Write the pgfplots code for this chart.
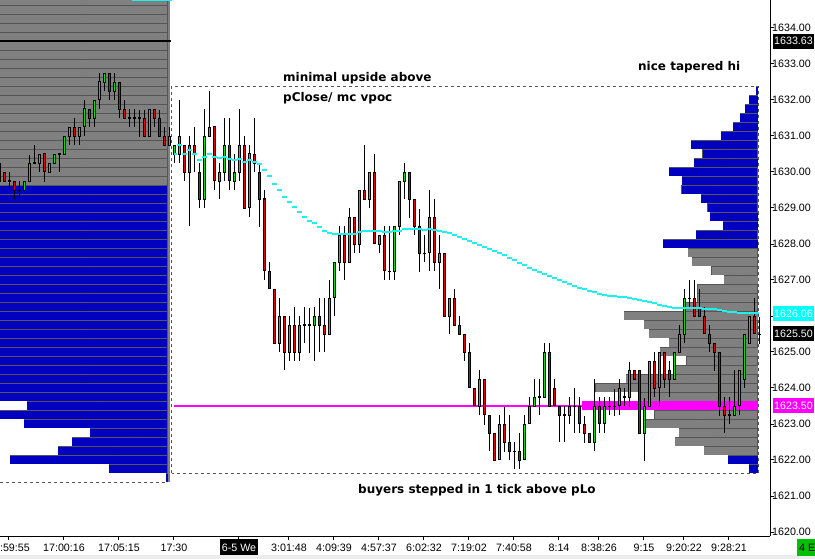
\documentclass[border=0pt]{standalone}
\usepackage{pgfplots}
\pgfplotsset{compat=1.18}
\usepackage{pgfplotstable}
\usepackage{fontspec}
\setmainfont{Liberation Sans}
\newfontfamily\notefont{DejaVu Sans}

\definecolor{cgreen}{RGB}{0,230,0}
\definecolor{cred}{RGB}{230,0,0}
\definecolor{pblue}{RGB}{0,0,192}
\definecolor{pgray}{RGB}{128,128,128}
\definecolor{pedge}{RGB}{85,85,85}
\definecolor{vwap}{RGB}{30,240,240}
\definecolor{poc}{RGB}{255,0,255}
\definecolor{boxcyan}{RGB}{0,255,255}
\definecolor{tagreen}{RGB}{0,192,0}

% candles: bar x (px), open, high, low, close
\pgfplotstableread{
x O H L C
-0.7 1629.75 1630.25 1629.75 1630.25
4.3 1630.00 1630.00 1629.75 1629.75
9.3 1629.75 1630.00 1629.50 1629.75
14.3 1629.75 1629.75 1629.25 1629.50
19.3 1629.50 1629.75 1629.25 1629.50
24.3 1629.50 1629.75 1629.50 1629.75
29.3 1629.75 1630.50 1629.75 1630.25
34.3 1630.25 1630.75 1630.25 1630.25
39.3 1630.25 1630.50 1630.00 1630.50
44.3 1630.50 1630.50 1629.75 1630.00
49.3 1630.00 1630.25 1630.00 1630.25
54.3 1630.25 1630.50 1630.25 1630.50
59.3 1630.50 1630.50 1630.00 1630.50
64.3 1630.50 1631.00 1630.50 1631.00
69.3 1631.00 1631.25 1630.75 1631.25
74.3 1631.25 1631.50 1630.75 1631.00
79.3 1631.00 1631.25 1630.75 1631.25
84.3 1631.25 1632.00 1631.00 1631.75
89.3 1631.75 1631.75 1631.25 1631.50
94.3 1631.50 1632.00 1631.25 1632.00
99.3 1632.00 1632.75 1631.75 1632.50
104.3 1632.50 1632.75 1632.25 1632.75
109.3 1632.75 1632.75 1632.00 1632.25
114.3 1632.25 1632.75 1632.00 1632.50
119.3 1632.50 1632.50 1631.50 1631.75
124.3 1631.75 1632.00 1631.50 1631.50
129.3 1631.50 1631.75 1631.25 1631.50
134.3 1631.50 1631.75 1631.25 1631.50
139.3 1631.50 1631.75 1631.00 1631.50
144.3 1631.50 1631.75 1631.00 1631.00
149.3 1631.00 1631.75 1631.00 1631.75
154.3 1631.75 1631.75 1631.25 1631.50
159.3 1631.50 1631.75 1631.00 1631.00
164.3 1631.00 1631.25 1630.75 1630.75
169.3 1630.75 1631.25 1630.75 1631.00
174.3 1630.50 1630.75 1630.25 1630.75
179.3 1630.50 1632.00 1630.25 1631.00
184.3 1630.75 1630.75 1629.75 1630.00
189.3 1630.00 1631.00 1628.50 1630.75
194.3 1630.75 1631.25 1630.00 1630.50
199.3 1630.00 1630.25 1629.00 1629.25
204.3 1629.25 1631.75 1629.00 1631.00
209.3 1631.00 1632.25 1631.00 1631.25
214.3 1631.25 1631.25 1629.50 1629.75
219.3 1629.75 1630.25 1629.25 1630.00
224.3 1630.00 1631.50 1629.75 1630.75
229.3 1630.75 1631.50 1629.50 1629.75
234.3 1629.75 1630.50 1629.50 1630.00
239.3 1630.00 1631.75 1629.75 1630.75
244.3 1630.75 1631.00 1629.00 1629.00
249.3 1629.00 1630.75 1628.75 1630.50
254.3 1630.50 1631.50 1630.00 1630.25
259.3 1630.00 1630.25 1628.50 1629.25
264.3 1629.25 1629.50 1627.00 1627.25
269.3 1627.25 1627.50 1626.75 1626.75
274.3 1626.75 1626.75 1625.25 1625.25
279.3 1625.25 1626.50 1625.00 1626.00
284.3 1626.00 1626.00 1624.50 1625.00
289.3 1625.00 1626.00 1624.75 1625.75
294.3 1625.75 1626.25 1624.75 1625.00
299.3 1625.00 1626.00 1624.75 1625.75
304.3 1625.75 1626.25 1625.25 1625.75
309.3 1625.75 1626.25 1625.00 1625.75
314.3 1625.75 1626.25 1624.75 1626.00
319.3 1626.00 1626.50 1625.00 1625.75
324.3 1625.75 1626.50 1625.00 1625.50
329.3 1625.50 1627.00 1625.50 1626.50
334.3 1626.50 1627.50 1626.00 1627.50
339.3 1627.50 1628.50 1627.25 1628.25
344.3 1628.25 1628.50 1627.00 1627.50
349.3 1627.50 1629.00 1627.50 1628.75
354.3 1628.75 1628.75 1627.75 1628.00
359.3 1628.00 1629.50 1627.75 1629.50
364.3 1629.50 1630.75 1629.25 1629.25
369.3 1629.25 1630.00 1629.00 1630.00
374.3 1630.00 1630.50 1628.00 1628.00
379.3 1628.00 1628.25 1627.75 1628.25
384.3 1628.25 1628.50 1627.00 1627.25
389.3 1627.25 1628.50 1627.00 1627.25
394.3 1627.25 1628.50 1627.00 1628.50
399.3 1628.50 1629.75 1628.25 1629.75
404.3 1629.75 1630.25 1629.25 1630.00
409.3 1630.00 1630.00 1628.75 1629.25
414.3 1629.25 1629.25 1628.25 1628.50
419.3 1628.50 1629.00 1627.25 1627.75
424.3 1627.75 1628.25 1627.50 1627.75
429.3 1627.75 1629.50 1627.25 1628.75
434.3 1628.75 1629.25 1627.25 1627.50
439.3 1627.50 1628.25 1626.75 1627.75
444.3 1627.75 1627.75 1626.00 1626.00
449.3 1626.00 1626.50 1625.50 1626.50
454.3 1626.50 1626.75 1625.75 1625.75
459.3 1625.75 1626.00 1625.50 1625.50
464.3 1625.50 1625.50 1624.75 1625.00
469.3 1625.00 1625.25 1624.00 1624.00
474.3 1624.00 1624.00 1623.50 1623.50
479.3 1623.50 1624.50 1623.25 1624.25
484.3 1624.25 1624.25 1623.00 1623.25
489.3 1623.25 1623.25 1622.25 1622.75
494.3 1622.75 1622.75 1622.00 1622.00
499.3 1622.00 1623.25 1622.00 1623.00
504.3 1623.00 1623.50 1622.25 1622.50
509.3 1622.50 1623.25 1622.00 1622.25
514.3 1622.25 1622.50 1621.75 1622.25
519.3 1622.25 1622.75 1621.75 1622.00
524.3 1622.00 1623.25 1622.00 1623.00
529.3 1623.00 1623.75 1623.00 1623.50
534.3 1623.50 1624.25 1623.50 1623.75
539.3 1623.75 1624.25 1623.25 1623.75
544.3 1623.75 1625.25 1623.75 1625.00
549.3 1625.00 1625.25 1623.50 1623.50
554.3 1624.00 1624.25 1623.50 1623.50
559.3 1623.50 1623.50 1622.50 1623.25
564.3 1623.25 1623.50 1622.50 1623.25
569.3 1623.25 1623.75 1623.00 1623.50
574.3 1623.50 1624.00 1622.75 1623.50
579.3 1623.50 1623.75 1622.75 1623.00
584.3 1623.00 1623.25 1622.50 1622.75
589.3 1622.75 1622.75 1622.50 1622.50
594.3 1622.50 1624.25 1622.25 1623.50
599.3 1623.50 1623.75 1622.75 1623.00
604.3 1623.00 1623.75 1622.75 1623.50
609.3 1623.50 1623.75 1623.25 1623.50
614.3 1623.50 1624.00 1623.25 1623.50
619.3 1623.50 1624.25 1623.25 1624.00
624.3 1623.75 1624.00 1623.50 1623.75
629.3 1623.75 1624.75 1623.50 1624.50
634.3 1624.50 1624.50 1624.25 1624.25
639.3 1624.50 1624.50 1622.75 1622.75
644.3 1622.75 1623.75 1622.00 1623.50
649.3 1623.50 1624.75 1623.50 1624.75
654.3 1624.75 1625.00 1623.75 1624.00
659.3 1624.00 1625.00 1623.50 1625.00
664.3 1625.00 1625.00 1624.00 1624.25
669.3 1624.50 1624.75 1623.75 1624.25
674.3 1624.25 1625.00 1624.25 1625.00
679.3 1625.00 1625.75 1625.00 1625.50
684.3 1625.50 1626.75 1625.25 1626.50
689.3 1626.50 1627.00 1626.25 1626.50
694.3 1626.50 1627.00 1626.00 1626.00
699.3 1626.25 1626.75 1626.00 1626.00
704.3 1626.00 1626.25 1625.50 1625.50
709.3 1625.50 1625.75 1625.00 1625.25
714.3 1625.25 1625.25 1624.50 1625.00
719.3 1625.00 1625.00 1623.25 1623.50
724.3 1623.50 1623.75 1622.75 1623.25
729.3 1623.25 1623.75 1623.00 1623.25
734.3 1623.25 1624.50 1623.25 1623.50
739.3 1623.50 1624.50 1623.25 1624.50
744.3 1624.25 1625.50 1624.00 1625.50
749.3 1625.25 1626.00 1625.25 1626.00
754.3 1626.00 1626.50 1625.50 1625.50
759.3 1625.50 1626.00 1625.25 1625.50
}\candles

% moving average, one value per bar
\pgfplotstableread{
x v
174.3 1630.500
179.3 1630.750
184.3 1630.500
189.3 1630.611
194.3 1630.500
199.3 1630.333
204.3 1630.417
209.3 1630.500
214.3 1630.417
219.3 1630.389
224.3 1630.417
229.3 1630.361
234.3 1630.333
239.3 1630.361
244.3 1630.278
249.3 1630.333
254.3 1630.278
259.3 1630.222
264.3 1630.056
269.3 1629.889
274.3 1629.667
279.3 1629.500
284.3 1629.306
289.3 1629.167
294.3 1629.028
299.3 1628.889
304.3 1628.750
309.3 1628.639
314.3 1628.583
319.3 1628.472
324.3 1628.361
329.3 1628.306
334.3 1628.278
339.3 1628.278
344.3 1628.278
349.3 1628.278
354.3 1628.278
359.3 1628.333
364.3 1628.361
369.3 1628.361
374.3 1628.361
379.3 1628.361
384.3 1628.320
389.3 1628.320
394.3 1628.361
399.3 1628.361
404.3 1628.410
409.3 1628.410
414.3 1628.410
419.3 1628.410
424.3 1628.389
429.3 1628.410
434.3 1628.389
439.3 1628.361
444.3 1628.320
449.3 1628.306
454.3 1628.250
459.3 1628.194
464.3 1628.139
469.3 1628.083
474.3 1628.028
479.3 1627.972
484.3 1627.917
489.3 1627.861
494.3 1627.806
499.3 1627.750
504.3 1627.694
509.3 1627.611
514.3 1627.556
519.3 1627.472
524.3 1627.417
529.3 1627.333
534.3 1627.278
539.3 1627.222
544.3 1627.167
549.3 1627.111
554.3 1627.056
559.3 1627.000
564.3 1626.944
569.3 1626.889
574.3 1626.833
579.3 1626.778
584.3 1626.750
589.3 1626.694
594.3 1626.667
599.3 1626.611
604.3 1626.583
609.3 1626.556
614.3 1626.542
619.3 1626.528
624.3 1626.514
629.3 1626.500
634.3 1626.472
639.3 1626.444
644.3 1626.417
649.3 1626.389
654.3 1626.361
659.3 1626.306
664.3 1626.278
669.3 1626.250
674.3 1626.236
679.3 1626.222
684.3 1626.222
689.3 1626.222
694.3 1626.222
699.3 1626.222
704.3 1626.208
709.3 1626.194
714.3 1626.181
719.3 1626.167
724.3 1626.139
729.3 1626.111
734.3 1626.111
739.3 1626.097
744.3 1626.083
749.3 1626.083
754.3 1626.083
759.3 1626.070
}\vwaptab

% volume profiles: price level, left end, right end (px)
\pgfplotstableread{
y l r
1634.75 -5 168
1634.50 -5 168
1634.25 -5 168
1634.00 -5 168
1633.75 -5 168
1633.50 -5 168
1633.25 -5 168
1633.00 -5 168
1632.75 -5 168
1632.50 -5 168
1632.25 -5 168
1632.00 -5 168
1631.75 -5 168
1631.50 -5 168
1631.25 -5 168
1631.00 -5 168
1630.75 -5 168
1630.50 -5 168
1630.25 -5 168
1630.00 -5 168
1629.75 -5 168
}\lgray

\pgfplotstableread{
y l r
1629.50 -5 168
1629.25 -5 168
1629.00 -5 168
1628.75 -5 168
1628.50 -5 168
1628.25 -5 168
1628.00 -5 168
1627.75 -5 168
1627.50 -5 168
1627.25 -5 168
1627.00 -5 168
1626.75 -5 168
1626.50 -5 168
1626.25 -5 168
1626.00 -5 168
1625.75 -5 168
1625.50 -5 168
1625.25 -5 168
1625.00 -5 168
1624.75 -5 168
1624.50 -5 168
1624.25 -5 168
1624.00 -5 168
1623.75 -5 168
1623.50 27 168
1623.25 -5 168
1623.00 24 168
1622.75 90 168
1622.50 72 168
1622.25 58 168
1622.00 10 168
1621.75 109 168
1621.50 166 168
}\lblue

\pgfplotstableread{
y l r
1632.25 756 758
1632.00 749 758
1631.75 745 758
1631.50 740 758
1631.25 733 758
1631.00 721 758
1630.75 691 758
1630.50 702 758
1630.25 694 758
1630.00 669 758
1629.75 682 758
1629.50 681 758
1629.25 701 758
1629.00 707 758
1628.75 710 758
1628.50 723 758
1628.25 696 758
1628.00 663 758
1622.00 728 758
1621.75 749 758
}\rblue

\pgfplotstableread{
y l r
1627.75 688 758
1627.50 692 758
1627.25 711 758
1627.00 724 758
1626.75 697 758
1626.50 697 758
1626.25 683 758
1626.00 624 758
1625.75 644 758
1625.50 649 758
1625.25 669 758
1625.00 660 758
1624.75 686 758
1624.50 673 758
1624.25 626 758
1624.00 595 758
1623.75 640 758
1623.25 654 758
1623.00 645 758
1622.75 679 758
1622.50 675 758
1622.25 704 758
}\rgray

\pgfplotstableread{
y l r
1623.50 582 758
}\rpoc

\pgfplotsset{
  nomark/.style={only marks, mark=*, mark size=0pt, mark options={draw=none, fill=none}},
  hbar/.style 2 args={nomark,
    error bars/.cd, x dir=both, x explicit, error mark=none,
    error bar style={draw=#1, line width=#2}},
  vbar/.style 2 args={nomark,
    error bars/.cd, y dir=both, y explicit, error mark=none,
    error bar style={draw=#1, line width=#2}},
}

\begin{document}
\begin{tikzpicture}
\begin{axis}[
  at={(0,0)}, anchor=south west,
  scale only axis, width=770bp, height=536bp,
  xmin=0, xmax=770, ymin=1619.8889, ymax=1634.7778,
  clip=false,
  axis x line*=bottom, axis y line*=right,
  axis line style={black, line width=1bp},
  tick align=outside, major tick length=4bp,
  tick style={black, line width=1bp},
  ytick={1620,1621,...,1634},
  yticklabels={1620.00,1621.00,1622.00,1623.00,1624.00,1625.00,{},1627.00,1628.00,1629.00,1630.00,1631.00,1632.00,1633.00,1634.00},
  tick label style={font=\fontsize{10.7bp}{12bp}\selectfont, text=black},
  yticklabel style={anchor=west, inner sep=0pt, xshift=-2bp},
  xticklabel style={anchor=base, inner sep=0pt, yshift=-12bp},
  xtick={9,64,119,174,239,289,334,379,424,469,514,559,599,644,684,729},
  xticklabels={16:59:55,17:00:16,17:05:15,17:30,
    {\setlength{\fboxsep}{0pt}\colorbox{black}{\rule[-4bp]{0pt}{16.5bp}\hspace{2bp}\textcolor{white}{6-5 We}\hspace{2bp}}},
    3:01:48,4:09:39,4:57:37,6:02:32,7:19:02,7:40:58,8:14,8:38:26,9:15,9:20:22,9:28:21},
]
% previous session profile
\addplot[hbar={pedge}{9bp}] table[y=y, x expr={(\thisrow{l}+\thisrow{r})/2}, x error expr={(\thisrow{r}-\thisrow{l})/2}] {\lgray};
\addplot[hbar={pgray}{8bp}] table[y=y, x expr={(\thisrow{l}+\thisrow{r})/2}, x error expr={(\thisrow{r}-\thisrow{l})/2-0.5}] {\lgray};
\addplot[hbar={pedge}{9bp}] table[y=y, x expr={(\thisrow{l}+\thisrow{r})/2}, x error expr={(\thisrow{r}-\thisrow{l})/2}] {\lblue};
\addplot[hbar={pblue}{8bp}] table[y=y, x expr={(\thisrow{l}+\thisrow{r})/2}, x error expr={(\thisrow{r}-\thisrow{l})/2-0.5}] {\lblue};

% dashed session boxes
\draw[pedge, line width=1bp, dash pattern=on 3bp off 3bp] (axis cs:172,1621.625) rectangle (axis cs:758,1632.375);
\draw[pedge, line width=1bp, dash pattern=on 3bp off 3bp] (axis cs:0,1621.375) -- (axis cs:167,1621.375);
\draw[gray, line width=1.5bp] (axis cs:169,1621.375) -- (axis cs:169,1634.7778);

% current session profile
\addplot[hbar={pedge}{9bp}] table[y=y, x expr={(\thisrow{l}+\thisrow{r})/2}, x error expr={(\thisrow{r}-\thisrow{l})/2}] {\rgray};
\addplot[hbar={pgray}{8bp}] table[y=y, x expr={(\thisrow{l}+\thisrow{r})/2}, x error expr={(\thisrow{r}-\thisrow{l})/2-0.5}] {\rgray};
\addplot[hbar={pedge}{9bp}] table[y=y, x expr={(\thisrow{l}+\thisrow{r})/2}, x error expr={(\thisrow{r}-\thisrow{l})/2}] {\rblue};
\addplot[hbar={pblue}{8bp}] table[y=y, x expr={(\thisrow{l}+\thisrow{r})/2}, x error expr={(\thisrow{r}-\thisrow{l})/2-0.5}] {\rblue};
\addplot[hbar={poc}{9bp}] table[y=y, x expr={(\thisrow{l}+\thisrow{r})/2}, x error expr={(\thisrow{r}-\thisrow{l})/2}] {\rpoc};

% reference lines
\addplot[black, line width=1.8bp] coordinates {(0,1633.63) (171,1633.63)};
\addplot[vwap, line width=2bp] coordinates {(132,1634.765) (172,1634.765)};
\addplot[poc, line width=2bp] coordinates {(174,1623.5) (582,1623.5)};

% candles
\addplot[vbar={black}{1bp}] table[x=x, y expr={(\thisrow{H}+\thisrow{L})/2}, y error expr={(\thisrow{H}-\thisrow{L})/2}] {\candles};
\addplot[vbar={black}{3.4bp}] table[x=x, y expr={(\thisrow{O}+\thisrow{C})/2}, y error expr={abs(\thisrow{C}-\thisrow{O})/2+0.0139}] {\candles};
\addplot[vbar={cgreen}{1.4bp}] table[x=x, y expr={(\thisrow{O}+\thisrow{C})/2}, y error expr={max((\thisrow{C}-\thisrow{O})/2-0.0139,0)}] {\candles};
\addplot[vbar={cred}{1.4bp}] table[x=x, y expr={(\thisrow{O}+\thisrow{C})/2}, y error expr={max((\thisrow{O}-\thisrow{C})/2-0.0139,0)}] {\candles};

% moving average
\addplot[vwap, line width=2bp, jump mark mid] table[x=x, y=v] {\vwaptab};

% notes
\node[anchor=base west, inner sep=0pt, font=\notefont\bfseries\fontsize{12bp}{14bp}\selectfont] at (axis cs:283,1632.5) {minimal upside above};
\node[anchor=base west, inner sep=0pt, font=\notefont\bfseries\fontsize{12bp}{14bp}\selectfont] at (axis cs:283,1631.972) {pClose/ mc vpoc};
\node[anchor=base west, inner sep=0pt, font=\notefont\bfseries\fontsize{12bp}{14bp}\selectfont] at (axis cs:638,1632.806) {nice tapered hi};
\node[anchor=base west, inner sep=0pt, font=\notefont\bfseries\fontsize{12bp}{14bp}\selectfont] at (axis cs:358,1621.056) {buyers stepped in 1 tick above pLo};

\coordinate (pA) at (axis cs:770,1633.63);
\coordinate (pB) at (axis cs:770,1626.06);
\coordinate (pC) at (axis cs:770,1625.50);
\coordinate (pD) at (axis cs:770,1623.50);
\coordinate (pE) at (axis cs:797,1619.57);
\coordinate (pF) at (axis cs:0,1619.36);
\coordinate (pG) at (axis cs:815,1619.25);
\end{axis}
\tikzset{pricebox/.style={anchor=west, inner xsep=1bp, inner ysep=0pt, minimum height=15bp,
  font=\fontsize{10.7bp}{12bp}\selectfont, text=white}}
\node[pricebox, fill=black] at ([xshift=3bp]pA) {1633.63};
\node[pricebox, fill=boxcyan] at ([xshift=3bp]pB) {1626.06};
\node[pricebox, fill=black] at ([xshift=3bp]pC) {1625.50};
\node[pricebox, fill=poc] at ([xshift=3bp]pD) {1623.50};
\fill[gray!15] (pF) rectangle (pG);
\node[anchor=west, fill=tagreen, inner xsep=2bp, inner ysep=0pt, minimum height=17bp,
  font=\fontsize{10.7bp}{12bp}\selectfont] at (pE) {4 E};
\pgfresetboundingbox
\path[use as bounding box] (0,-23bp) rectangle (815bp,536bp);
\end{tikzpicture}
\end{document}
